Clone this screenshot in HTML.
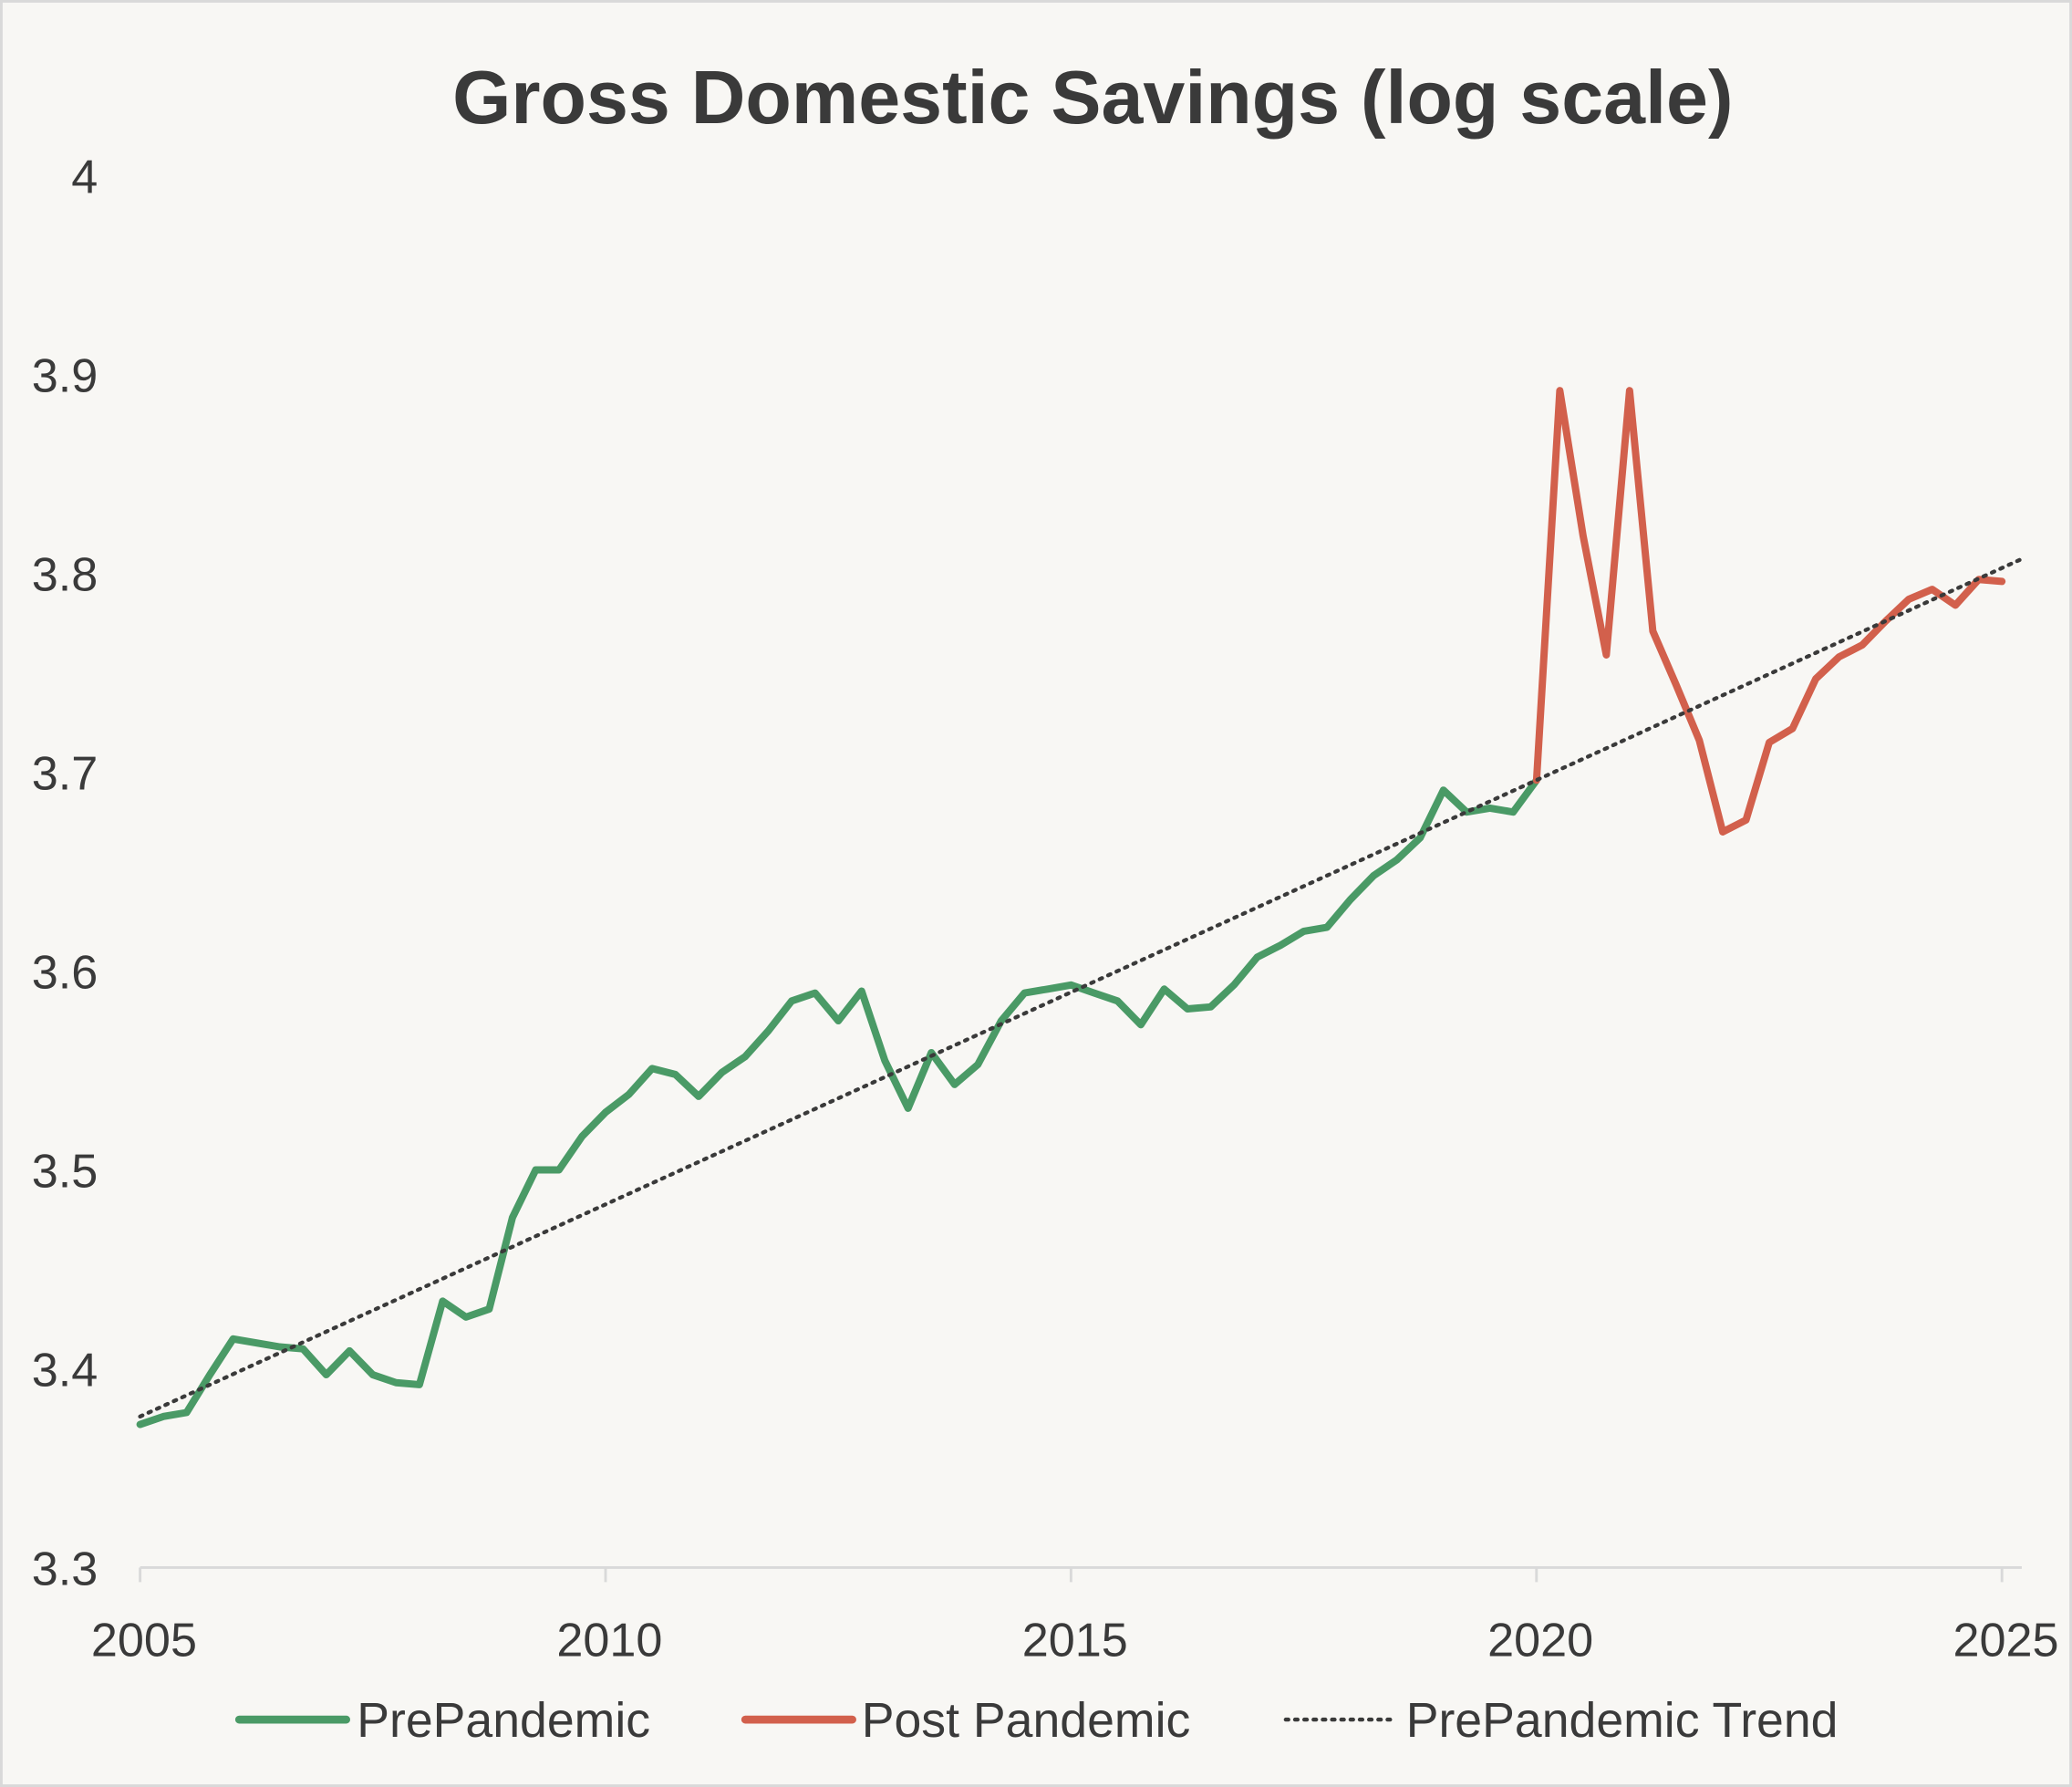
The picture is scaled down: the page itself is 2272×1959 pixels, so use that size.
<!DOCTYPE html>
<html><head><meta charset="utf-8"><style>
html,body{margin:0;padding:0;background:#f8f7f4;}
svg{display:block;font-family:"Liberation Sans",sans-serif;}
</style></head><body>
<svg id="chart" width="2272" height="1959" viewBox="0 0 1568 1352" xmlns="http://www.w3.org/2000/svg">
<rect x="1" y="1" width="1566" height="1350" fill="#f8f7f4" stroke="#d9d9d9" stroke-width="2"/>
<text x="827" y="93" text-anchor="middle" font-size="57" font-weight="bold" fill="#3a3a3a">Gross Domestic Savings (log scale)</text>
<g id="yticks"></g>
<g id="xticks"></g>
<line x1="106" y1="1186" x2="1530" y2="1186" stroke="#d9d9d9" stroke-width="2"/>
<g id="series"></g>
<g>
  <line x1="181" y1="1301" x2="262" y2="1301" stroke="#4a9a66" stroke-width="6" stroke-linecap="round"/>
  <text x="270" y="1314" font-size="37" fill="#3a3a3a">PrePandemic</text>
  <line x1="564" y1="1301" x2="645" y2="1301" stroke="#d2604c" stroke-width="6" stroke-linecap="round"/>
  <text x="652" y="1314" font-size="37" fill="#3a3a3a">Post Pandemic</text>
  <line x1="973" y1="1301" x2="1055" y2="1301" stroke="#3a3a3a" stroke-width="3" stroke-dasharray="2,5" stroke-linecap="round"/>
  <text x="1064" y="1314" font-size="37" fill="#3a3a3a">PrePandemic Trend</text>
</g>
</svg>
<script>
const yTickValues = [3.3, 3.4, 3.5, 3.6, 3.7, 3.8, 3.9, 4];
const yTickLabels = ["3.3", "3.4", "3.5", "3.6", "3.7", "3.8", "3.9", "4"];
const xTickYears = [2005, 2010, 2015, 2020, 2025];
const preDates = [2005,2005.25,2005.5,2005.75,2006,2006.25,2006.5,2006.75,2007,2007.25,2007.5,2007.75,2008,2008.25,2008.5,2008.75,2009,2009.25,2009.5,2009.75,2010,2010.25,2010.5,2010.75,2011,2011.25,2011.5,2011.75,2012,2012.25,2012.5,2012.75,2013,2013.25,2013.5,2013.75,2014,2014.25,2014.5,2014.75,2015,2015.25,2015.5,2015.75,2016,2016.25,2016.5,2016.75,2017,2017.25,2017.5,2017.75,2018,2018.25,2018.5,2018.75,2019,2019.25,2019.5,2019.75,2020];
const preValues = [3.372,3.376,3.378,3.397,3.415,3.413,3.411,3.410,3.397,3.409,3.397,3.393,3.392,3.434,3.426,3.430,3.476,3.500,3.500,3.517,3.529,3.538,3.551,3.548,3.537,3.549,3.557,3.570,3.585,3.589,3.575,3.590,3.555,3.531,3.559,3.543,3.553,3.575,3.589,3.591,3.593,3.589,3.585,3.573,3.591,3.581,3.582,3.593,3.607,3.613,3.620,3.622,3.636,3.648,3.656,3.667,3.691,3.680,3.682,3.680,3.696];
const postDates = [2020,2020.25,2020.5,2020.75,2021,2021.25,2021.5,2021.75,2022,2022.25,2022.5,2022.75,2023,2023.25,2023.5,2023.75,2024,2024.25,2024.5,2024.75,2025];
const postValues = [3.696,3.892,3.819,3.759,3.892,3.771,3.744,3.716,3.670,3.676,3.715,3.722,3.747,3.758,3.764,3.776,3.787,3.792,3.784,3.797,3.796];
const trendDates = [2005, 2025.2];
const trendValues = [3.376, 3.807];

const NS = "http://www.w3.org/2000/svg";
function xScale(t){ return 106 + (t - 2005) * (1515 - 106) / 20; }
function yScale(v){ return 1186 - (v - 3.3) * (1186 - 133) / 0.7; }
function mk(tag, attrs, parent){ const e = document.createElementNS(NS, tag); for (const k in attrs) e.setAttribute(k, attrs[k]); parent.appendChild(e); return e; }

const yg = document.getElementById('yticks');
yTickValues.forEach((v, i) => {
  const t = mk('text', {x: 74, y: yScale(v) + 13, 'text-anchor': 'end', 'font-size': 36, fill: '#3a3a3a'}, yg);
  
  
  t.textContent = yTickLabels[i];
});
const xg = document.getElementById('xticks');
xTickYears.forEach(yr => {
  const l = mk('line', {x1: xScale(yr), x2: xScale(yr), y1: 1186, y2: 1197, stroke: '#d9d9d9', 'stroke-width': 2}, xg);
  
  
  const t = mk('text', {x: xScale(yr) + 3, y: 1253, 'text-anchor': 'middle', 'font-size': 36, fill: '#3a3a3a'}, xg);
  
  
  t.textContent = String(yr);
});
function pts(ds, vs){ return ds.map((d, i) => xScale(d).toFixed(1) + ',' + yScale(vs[i]).toFixed(1)).join(' '); }
const sg = document.getElementById('series');
const pre = mk('polyline', {points: pts(preDates, preValues), fill: 'none', stroke: '#4a9a66', 'stroke-width': 5.5, 'stroke-linejoin': 'round', 'stroke-linecap': 'round'}, sg);


const post = mk('polyline', {points: pts(postDates, postValues), fill: 'none', stroke: '#d2604c', 'stroke-width': 5.5, 'stroke-linejoin': 'round', 'stroke-linecap': 'round'}, sg);


const tr = mk('polyline', {points: pts(trendDates, trendValues), fill: 'none', stroke: '#3a3a3a', 'stroke-width': 3, 'stroke-dasharray': '2,5', 'stroke-linecap': 'round'}, sg);


</script>
</body></html>
